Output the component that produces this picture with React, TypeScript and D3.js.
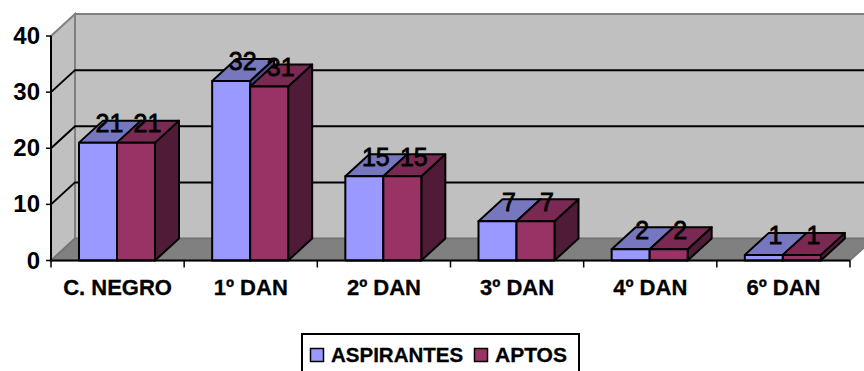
import React from "react";
import * as d3 from "d3";

const categories = ["C. NEGRO", "1º DAN", "2º DAN", "3º DAN", "4º DAN", "6º DAN"];
const aspirantes = [21, 32, 15, 7, 2, 1];
const aptos = [21, 31, 15, 7, 2, 1];
const yTicks = [0, 10, 20, 30, 40];
const seriesNames = ["ASPIRANTES", "APTOS"];
const seriesValues = [aspirantes, aptos];
const fronts = ["#9999ff", "#993366"];
const tops = ["#7777bf", "#7a2952"];
const sides = ["#4d4d80", "#4f1b36"];

const W = 864, H = 371;
const DX = 24, DY = -22;
const FONT = "'Liberation Sans', Arial, sans-serif";

export default function App() {
  const x = d3.scaleBand<string>().domain(categories).range([51, 850]);
  const inner = d3.scaleBand<string>().domain(seriesNames).range([28, 104]);
  const y = d3.scaleLinear().domain([0, 40]).range([260.5, 36]);
  const pts = (p: number[][]) => p.map((q) => q.join(",")).join(" ");
  const y0 = y(0), x0 = 51, x1 = 850;
  const bw = inner.bandwidth();

  return (
    <svg width={W} height={H} viewBox={`0 0 ${W} ${H}`} style={{ position: "absolute", left: 0, top: 0, background: "#fff" }} fontFamily={FONT}>
      {/* walls */}
      <polygon points={pts([[x0 + DX, y(40) + DY], [x1 + DX, y(40) + DY], [x1 + DX, y0 + DY], [x0 + DX, y0 + DY]])} fill="#c0c0c0" stroke="#808080" strokeWidth={2} />
      <polygon points={pts([[x0, y(40)], [x0 + DX, y(40) + DY], [x0 + DX, y0 + DY], [x0, y0]])} fill="#c0c0c0" stroke="#808080" strokeWidth={2} />
      <polygon points={pts([[x0, y0], [x0 + DX, y0 + DY], [x1 + DX, y0 + DY], [x1, y0]])} fill="#808080" stroke="#737373" strokeWidth={1.5} />
      {/* grid */}
      {yTicks.filter((t) => t > 0 && t < 40).map((t) => (
        <polyline key={t} points={pts([[x0, y(t)], [x0 + DX, y(t) + DY], [x1 + DX, y(t) + DY]])} fill="none" stroke="#000" strokeWidth={2} />
      ))}
      {/* bars */}
      {categories.map((c, i) =>
        seriesNames.map((s, k) => {
          const v = seriesValues[k][i];
          const l = x(c)! + inner(s)!;
          const r = l + bw;
          const t = y(v);
          return (
            <g key={c + s} stroke="#000" strokeWidth={2} strokeLinejoin="round">
              <polygon points={pts([[r, t], [r + DX, t + DY], [r + DX, y0 + DY], [r, y0]])} fill={sides[k]} />
              <polygon points={pts([[l, t], [l + DX, t + DY], [r + DX, t + DY], [r, t]])} fill={tops[k]} />
              <rect x={l} y={t} width={bw} height={y0 - t} fill={fronts[k]} />
            </g>
          );
        })
      )}
      {/* axes */}
      <line x1={x0} x2={x0} y1={y(40)} y2={y0} stroke="#000" strokeWidth={2} />
      <line x1={x0} x2={x1} y1={y0} y2={y0} stroke="#000" strokeWidth={2} />
      {yTicks.map((t) => (
        <g key={t}>
          <line x1={x0 - 5} x2={x0} y1={y(t)} y2={y(t)} stroke="#000" strokeWidth={1.5} />
          <text x={40} y={y(t) + 8} textAnchor="end" fontSize={24} fontWeight="bold" fill="#000">{t}</text>
        </g>
      ))}
      {[...categories.map((c) => x(c)!), x1].map((p, i) => (
        <line key={i} x1={p} x2={p} y1={y0} y2={y0 + 7} stroke="#000" strokeWidth={1.5} />
      ))}
      {categories.map((c) => (
        <text key={c} x={x(c)! + x.bandwidth() / 2} y={295} textAnchor="middle" fontSize={22} fontWeight="bold" fill="#000" stroke="#000" strokeWidth={0.3}>{c}</text>
      ))}
      {/* data labels */}
      {categories.map((c, i) =>
        seriesNames.map((s, k) => (
          <text key={c + s} x={x(c)! + inner(s)! + bw / 2 + 11.5} y={y(seriesValues[k][i]) - 10.5} textAnchor="middle" fontSize={25} fill="#000" stroke="#000" strokeWidth={0.8}>
            {seriesValues[k][i]}
          </text>
        ))
      )}
      {/* legend */}
      <rect x={302} y={334} width={277} height={50} fill="#fff" stroke="#000" strokeWidth={2} />
      <rect x={310.5} y={348.5} width={13} height={13} fill={fronts[0]} stroke="#000" strokeWidth={1.5} />
      <text x={331} y={362} fontSize={20.5} fontWeight="bold" fill="#000" stroke="#000" strokeWidth={0.3}>{seriesNames[0]}</text>
      <rect x={474.5} y={348.5} width={13} height={13} fill={fronts[1]} stroke="#000" strokeWidth={1.5} />
      <text x={495} y={362} fontSize={21} fontWeight="bold" fill="#000" stroke="#000" strokeWidth={0.3}>{seriesNames[1]}</text>
    </svg>
  );
}
